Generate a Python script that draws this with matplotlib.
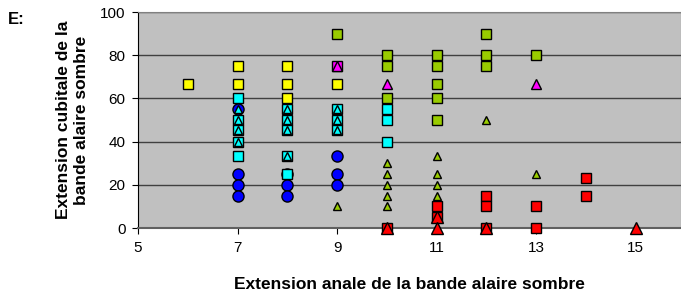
import matplotlib.pyplot as plt

plt.rcParams['font.family'] = ['Liberation Sans', 'DejaVu Sans']

# (anale, cubitale) pairs per group
yellow_sq_x = [6, 7, 7, 8, 8, 8, 9]
yellow_sq_y = [66.67, 75, 66.67, 75, 66.67, 60, 66.67]

blue_ci_x = [7, 7, 7, 7, 8, 8, 8, 9, 9, 9]
blue_ci_y = [55, 25, 20, 15, 25, 20, 15, 33.33, 25, 20]

cyan_sq_x = [7, 7, 7, 7, 7, 8, 8, 8, 8, 8, 9, 9, 9, 10, 10, 10]
cyan_sq_y = [60, 50, 45.45, 40, 33.33, 55, 50, 45.45, 33.33, 25, 55, 50, 45.45, 55, 50, 40]

cyan_tr_x = [7, 7, 7, 7, 8, 8, 8, 8, 9, 9, 9]
cyan_tr_y = [55, 50, 45.45, 40, 55, 50, 45.45, 33.33, 55, 50, 45.45]

green_sq_x = [9, 10, 10, 10, 11, 11, 11, 11, 11, 12, 12, 12, 13]
green_sq_y = [90, 80, 75, 60, 80, 75, 66.67, 60, 50, 90, 80, 75, 80]

green_tr_x = [9, 10, 10, 10, 10, 10, 11, 11, 11, 11, 12, 13]
green_tr_y = [10, 30, 25, 20, 15, 10, 33.33, 25, 20, 15, 50, 25]

magenta_sq_x = [9]
magenta_sq_y = [75]
magenta_tr_x = [9, 10, 13]
magenta_tr_y = [75, 66.67, 66.67]

red_sq_x = [10, 11, 11, 12, 12, 12, 13, 13, 14, 14]
red_sq_y = [0, 10, 5, 15, 10, 0, 10, 0, 23, 15]

red_tr_x = [10, 11, 11, 12, 15]
red_tr_y = [0, 5, 0, 0, 0]

fig = plt.figure(figsize=(6.81, 2.96), dpi=100)
ax = fig.add_axes([138 / 681, 68 / 296, 543 / 681, 216 / 296])
ax.set_facecolor('#C0C0C0')

def pts(xs, ys, marker, color, size, z):
    ax.plot(xs, ys, linestyle='none', marker=marker, markersize=size,
            markerfacecolor=color, markeredgecolor='black', markeredgewidth=1.0,
            clip_on=False, zorder=z)

pts(blue_ci_x, blue_ci_y, 'o', '#0000FF', 8.0, 3)
pts(yellow_sq_x, yellow_sq_y, 's', '#FFFF00', 7.8, 4)
pts(cyan_sq_x, cyan_sq_y, 's', '#00FFFF', 7.8, 4)
pts(cyan_tr_x, cyan_tr_y, '^', '#00FFFF', 6.0, 5)
pts(green_sq_x, green_sq_y, 's', '#99CC00', 7.8, 4)
pts(green_tr_x, green_tr_y, '^', '#99CC00', 6.4, 5)
pts(magenta_sq_x, magenta_sq_y, 's', '#FF00FF', 7.8, 4)
pts(magenta_tr_x, magenta_tr_y, '^', '#FF00FF', 7.0, 5)
pts(red_sq_x, red_sq_y, 's', '#FF0000', 7.8, 4)
pts(red_tr_x, red_tr_y, '^', '#FF0000', 8.6, 6)

ax.set_xlim(5, 5 + 543 / 49.75)
ax.set_ylim(0, 100)
ax.set_xticks([5, 7, 9, 11, 13, 15])
ax.set_yticks([0, 20, 40, 60, 80, 100])
ax.yaxis.grid(True, color='#404040', linewidth=1.0)
ax.set_axisbelow(True)

for s in ['top', 'right']:
    ax.spines[s].set_color('#808080')
ax.spines['bottom'].set_color('#606060')
ax.spines['bottom'].set_linewidth(1.5)
ax.spines['left'].set_color('black')
ax.tick_params(axis='y', direction='out', length=4, labelsize=11, colors='black', pad=5)
ax.tick_params(axis='x', direction='out', length=4, labelsize=11, pad=5)

ax.set_xlabel('Extension anale de la bande alaire sombre', fontsize=12.5,
              fontweight='bold', labelpad=16)
ax.set_ylabel('Extension cubitale de la\nbande alaire sombre', fontsize=12.5,
              fontweight='bold', labelpad=8)

fig.text(8 / 681, 1 - 24 / 296, 'E:', fontsize=12, fontweight='bold')

fig.savefig('out.png', dpi=100)
